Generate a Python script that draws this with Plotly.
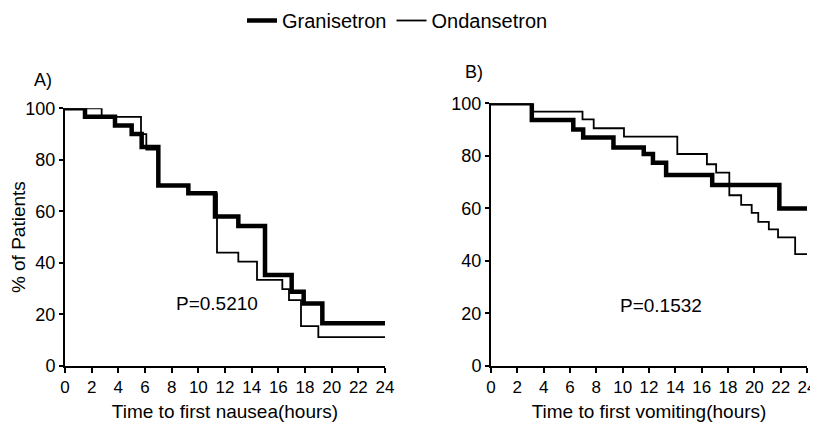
import plotly.graph_objects as go

# ---- data ----
# Panel A: time to first nausea
nausea_gran_t = [0, 1.5, 3.75, 5.0, 5.75, 7.0, 9.25, 11.25, 13.0, 15.0, 17.0, 17.9, 19.3, 24]
nausea_gran_v = [100, 96.7, 93.3, 90.0, 85.0, 70.0, 67.0, 58.0, 54.3, 35.3, 28.8, 24.3, 16.6, 16.6]
nausea_ond_t = [0, 2.75, 5.7, 6.1, 7.0, 9.25, 11.4, 13.0, 14.4, 16.3, 16.8, 17.7, 19.0, 24]
nausea_ond_v = [100, 96.7, 90.0, 84.0, 70.0, 67.0, 44.0, 40.5, 33.4, 29.8, 25.6, 15.5, 11.2, 11.2]

# Panel B: time to first vomiting
vomit_gran_t = [0, 3.1, 6.25, 7.0, 9.3, 11.6, 12.3, 13.3, 16.8, 21.9, 24]
vomit_gran_v = [100, 93.6, 90.0, 87.0, 83.2, 80.7, 77.4, 72.7, 68.9, 60.0, 60.0]
vomit_ond_t = [0, 3.1, 6.95, 7.8, 10.1, 14.15, 16.4, 17.1, 18.1, 19.0, 19.8, 20.3, 21.1, 21.8, 23.1, 24]
vomit_ond_v = [100, 96.8, 93.9, 90.5, 87.3, 80.7, 76.8, 73.6, 65.0, 61.3, 58.3, 54.9, 52.0, 49.0, 42.6, 42.6]

x_ticks = list(range(0, 25, 2))
y_ticks = [0, 20, 40, 60, 80, 100]
p_values = ["P=0.5210", "P=0.1532"]
series_names = ["Granisetron", "Ondansetron"]
panel_labels = ["A)", "B)"]
x_titles = ["Time to first nausea(hours)", "Time to first vomiting(hours)"]
y_title = "% of Patients"

FONT = "Liberation Sans, Arial, sans-serif"
PAGE_OFF = 8                      # default body margin of the html page
W, H = 818 - PAGE_OFF, 424 - PAGE_OFF

def fx(px):                       # page pixel -> paper fraction
    return (px - PAGE_OFF) / W

def fy(py):
    return (H - (py - PAGE_OFF)) / H

fig = go.Figure()

thick = dict(color="black", width=4.5)
thin = dict(color="black", width=1.8)

fig.add_trace(go.Scatter(x=nausea_gran_t, y=nausea_gran_v, mode="lines", line=thick,
                         line_shape="hv", name=series_names[0], xaxis="x", yaxis="y"))
fig.add_trace(go.Scatter(x=nausea_ond_t, y=nausea_ond_v, mode="lines", line=thin,
                         line_shape="hv", name=series_names[1], xaxis="x", yaxis="y"))
fig.add_trace(go.Scatter(x=vomit_gran_t, y=vomit_gran_v, mode="lines", line=thick,
                         line_shape="hv", name=series_names[0], showlegend=False,
                         xaxis="x2", yaxis="y2"))
fig.add_trace(go.Scatter(x=vomit_ond_t, y=vomit_ond_v, mode="lines", line=thin,
                         line_shape="hv", name=series_names[1], showlegend=False,
                         xaxis="x2", yaxis="y2"))

def xax(domain, anchor, title):
    return dict(domain=domain, anchor=anchor, range=[0, 24], tickmode="array",
                tickvals=x_ticks, ticktext=[str(t) for t in x_ticks],
                showline=True, linecolor="black", linewidth=2, ticks="outside",
                ticklen=5, tickwidth=2, tickcolor="black", showgrid=False,
                zeroline=False, automargin=False,
                tickfont=dict(family=FONT, size=17, color="black"),
                title=dict(text=title, font=dict(family=FONT, size=19, color="black"),
                           standoff=8))

def yax(domain, anchor, title):
    return dict(domain=domain, anchor=anchor, range=[0, 100], tickmode="array",
                tickvals=y_ticks, showline=True, linecolor="black", linewidth=2,
                ticks="outside", ticklen=4, tickwidth=2, tickcolor="black",
                showgrid=False, zeroline=False, automargin=False,
                tickfont=dict(family=FONT, size=18, color="black"),
                title=dict(text=title, font=dict(family=FONT, size=19, color="black"),
                           standoff=4))

fig.update_layout(
    width=W, height=H,
    margin=dict(l=0, r=0, t=0, b=0, autoexpand=False),
    paper_bgcolor="white", plot_bgcolor="white",
    font=dict(family=FONT, color="black"),
    xaxis=xax([fx(65), fx(385)], "y", x_titles[0]),
    yaxis=yax([fy(366), fy(108.3)], "x", y_title),
    xaxis2=xax([fx(491), fx(807)], "y2", x_titles[1]),
    yaxis2=yax([fy(366), fy(103.3)], "x2", ""),
    legend=dict(orientation="h", x=fx(242), xanchor="left", y=fy(20.5), yanchor="middle",
                font=dict(family=FONT, size=20, color="black"),
                itemwidth=30, tracegroupgap=0, bgcolor="rgba(0,0,0,0)"),
    showlegend=True,
)

# panel labels
fig.add_annotation(text=panel_labels[0], xref="paper", yref="paper",
                   x=fx(32), y=fy(80), xanchor="left", yanchor="middle",
                   showarrow=False, font=dict(family=FONT, size=18, color="black"))
fig.add_annotation(text=panel_labels[1], xref="paper", yref="paper",
                   x=fx(463), y=fy(72), xanchor="left", yanchor="middle",
                   showarrow=False, font=dict(family=FONT, size=18, color="black"))

# p-values
fig.add_annotation(text=p_values[0], xref="paper", yref="paper",
                   x=fx(217), y=fy(303), xanchor="center", yanchor="middle",
                   showarrow=False, font=dict(family=FONT, size=19, color="black"))
fig.add_annotation(text=p_values[1], xref="paper", yref="paper",
                   x=fx(661), y=fy(305), xanchor="center", yanchor="middle",
                   showarrow=False, font=dict(family=FONT, size=19, color="black"))

fig.write_html("out.html")
